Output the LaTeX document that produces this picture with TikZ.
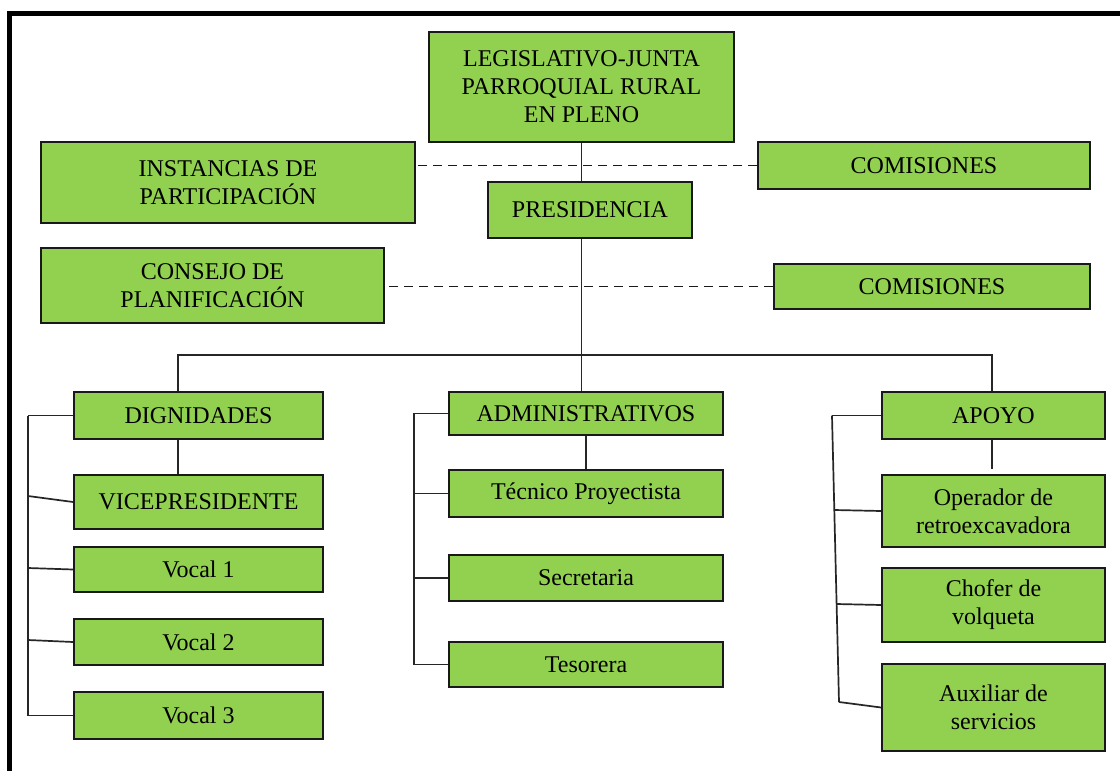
\documentclass[tikz,border=0pt]{standalone}
\usepackage{fontspec}
\setmainfont{Liberation Serif}
\definecolor{boxgreen}{HTML}{92D050}
\newcommand\orgbox[6]{\node[box,minimum width={#4-#2},minimum height={#5-#3}] (#1) at ({(#2+#4)/2},{(#3+#5)/2}) {#6};}
\begin{document}
\begin{tikzpicture}[x=1pt,y=-1pt,
  box/.style={draw=black!90,line width=1.8pt,fill=boxgreen,inner sep=0pt,align=center,
    font=\fontsize{24}{28}\selectfont},
  conn/.style={draw=black!85,line width=1.7pt},
  dconn/.style={draw=black!90,line width=1.9pt,dash pattern=on 9pt off 6pt}]
\useasboundingbox (0,0) rectangle (1120,771);
\fill[white] (0,0) rectangle (1120,771);
% frame
\draw[line width=5pt,line join=miter] (9.8,775) -- (9.8,13.5) -- (1125,13.5);
% boxes
\orgbox{leg}{429}{32}{734}{142}{LEGISLATIVO-JUNTA\\PARROQUIAL RURAL\\EN PLENO}
\orgbox{inst}{41}{142}{415}{223}{INSTANCIAS DE\\PARTICIPACIÓN}
\orgbox{com1}{758}{142}{1090}{189}{COMISIONES}
\orgbox{pres}{488}{182}{692}{238}{PRESIDENCIA}
\orgbox{cons}{41}{248}{384}{323}{CONSEJO DE\\PLANIFICACIÓN}
\orgbox{com2}{774}{264}{1090}{309}{COMISIONES}
\orgbox{dig}{74}{392}{323}{439}{DIGNIDADES}
\orgbox{vice}{74}{475}{323}{529}{VICEPRESIDENTE}
\orgbox{voc1}{74}{547}{323}{592}{Vocal 1}
\orgbox{voc2}{74}{619}{323}{665}{Vocal 2}
\orgbox{voc3}{74}{692}{323}{739}{Vocal 3}
\orgbox{adm}{449}{392}{723}{435}{ADMINISTRATIVOS}
\orgbox{tec}{449}{470}{723}{517}{Técnico Proyectista}
\orgbox{sec}{449}{555}{723}{601}{Secretaria}
\orgbox{tes}{449}{642}{723}{687}{Tesorera}
\orgbox{apo}{882}{392}{1105}{439}{APOYO}
\orgbox{ope}{882}{475}{1105}{547}{Operador de\\retroexcavadora}
\orgbox{cho}{882}{568}{1105}{642}{Chofer de\\volqueta}
\orgbox{aux}{882}{664}{1105}{751}{Auxiliar de\\servicios}
% coordinates
\coordinate (busL) at (178,355);
\coordinate (busR) at (992,355);
\coordinate (l1) at (28,415.5);
\coordinate (l2) at (28,496);
\coordinate (l3) at (28,568);
\coordinate (l4) at (28,640);
\coordinate (l5) at (28,715.5);
\coordinate (m1) at (414,413.5);
\coordinate (m4) at (414,664.5);
\coordinate (r1) at (832,415.5);
\coordinate (r2) at (834,510);
\coordinate (r3) at (836.5,604);
\coordinate (r4) at (839,702);
\coordinate (apoEnd) at (992,469);
% main spine
\draw[conn] (leg.south) -- (leg.south |- pres.north);
\draw[conn] (leg.south |- pres.south) -- (leg.south |- adm.north);
\draw[conn] (dig.north -| busL) -- (busL) -- (busR) -- (apo.north -| busR);
% dashed
\draw[dconn] (com1.west) -- (com1.west -| inst.east);
\draw[dconn] (com2.west) -- (com2.west -| cons.east);
% left group
\draw[conn] (dig.south -| busL) -- (vice.north -| busL);
\draw[conn] (l1) -- (l5);
\draw[conn] (l1) -- (dig.west);
\draw[conn] (l2) -- (vice.west);
\draw[conn] (l3) -- (voc1.west);
\draw[conn] (l4) -- (voc2.west);
\draw[conn] (l5) -- (voc3.west);
% middle group
\draw[conn] (adm.south) -- (tec.north);
\draw[conn] (adm.west) -- (m1) -- (m4) -- (tes.west);
\draw[conn] (tec.west) -- (tec.west -| m1);
\draw[conn] (sec.west) -- (sec.west -| m1);
% right group
\draw[conn] (apo.south -| busR) -- (apoEnd);
\draw[conn] (r1) -- (r4);
\draw[conn] (r1) -- (apo.west);
\draw[conn] (r2) -- (ope.west);
\draw[conn] (r3) -- (cho.west);
\draw[conn] (r4) -- (aux.west);
\end{tikzpicture}
\end{document}
